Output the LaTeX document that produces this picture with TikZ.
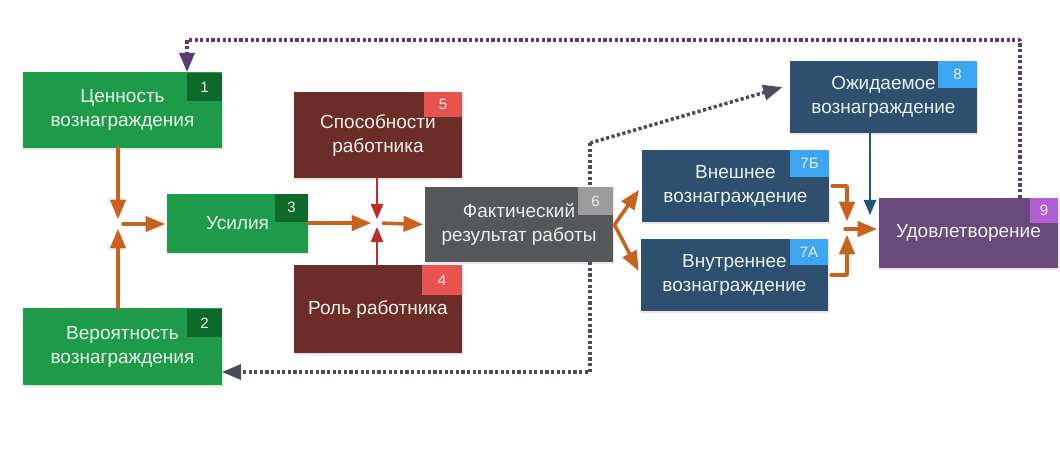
\documentclass[tikz,border=0pt]{standalone}
\usepackage{fontspec}
\setmainfont{Liberation Sans}
\usepackage{tikz}
\usetikzlibrary{arrows,shadows}

\definecolor{boxtext}{HTML}{E8F0E8}
\definecolor{greenbox}{HTML}{1E9A4B}
\definecolor{greentag}{HTML}{0E6A2B}
\definecolor{brownbox}{HTML}{6C2D29}
\definecolor{browntag}{HTML}{E8524F}
\definecolor{greybox}{HTML}{55575B}
\definecolor{greytag}{HTML}{9C9C9C}
\definecolor{bluebox}{HTML}{2F4F6F}
\definecolor{bluetag}{HTML}{3DA6F3}
\definecolor{purplebox}{HTML}{6A4A7C}
\definecolor{purpletag}{HTML}{B45ED6}
\definecolor{flowor}{HTML}{C8621F}
\definecolor{flowred}{HTML}{BE2E28}
\definecolor{flowteal}{HTML}{1C5A78}
\definecolor{dotpurple}{HTML}{5C3A78}
\definecolor{dotgrey}{HTML}{4A4D57}

\begin{document}
\begin{tikzpicture}[line cap=round,line join=round,>=triangle 45,x=1pt,y=-1pt,
  box/.style={rectangle,inner sep=0pt,align=center,text=boxtext,
    font=\fontsize{19}{24}\selectfont,
    drop shadow={opacity=0.2,shadow xshift=1pt,shadow yshift=-1.5pt}},
  tag/.style={rectangle,anchor=north east,inner sep=0pt,minimum width=35pt,
    minimum height=28pt,text=boxtext,font=\fontsize{15}{15}\selectfont},
  flow/.style={->,color=flowor,line width=3.6pt},
  inflow/.style={->,color=flowred,line width=2.6pt},
  dotline/.style={line cap=butt,line width=3.5pt,dash pattern=on 3.2pt off 2.4pt}]
\useasboundingbox (0,0) rectangle (1060,475);

% boxes
\node[box,fill=greenbox,minimum width=199pt,minimum height=76pt] (val) at (122.5,110) {Ценность\\вознаграждения};
\node[tag,fill=greentag] (val-n) at ([yshift=-1pt]val.north east) {1};
\node[box,fill=greenbox,minimum width=199pt,minimum height=77pt] (prob) at (122.5,346.5) {Вероятность\\вознаграждения};
\node[tag,fill=greentag] (prob-n) at ([yshift=-1pt]prob.north east) {2};
\node[box,fill=greenbox,minimum width=141pt,minimum height=59pt] (eff) at (237.5,223) {Усилия};
\node[tag,fill=greentag,minimum width=33pt] (eff-n) at (eff.north east) {3};
\node[box,fill=brownbox,minimum width=168pt,minimum height=86pt] (abil) at (378,135) {Способности\\работника};
\node[tag,fill=browntag,minimum width=38pt,minimum height=25pt] (abil-n) at (abil.north east) {5};
\node[box,fill=brownbox,minimum width=168pt,minimum height=88pt] (role) at (378,309) {Роль работника};
\node[tag,fill=browntag,minimum width=40pt,minimum height=30pt] (role-n) at (role.north east) {4};
\node[box,fill=greybox,minimum width=188pt,minimum height=75pt] (fact) at (519,224.5) {Фактический\\результат работы};
\node[tag,fill=greytag,minimum width=35pt] (fact-n) at (fact.north east) {6};
\node[box,fill=bluebox,minimum width=187pt,minimum height=72pt] (ext) at (735.5,186) {Внешнее\\вознаграждение};
\node[tag,fill=bluetag,minimum width=39pt,minimum height=27pt] (ext-n) at (ext.north east) {7Б};
\node[box,fill=bluebox,minimum width=187pt,minimum height=72pt] (int) at (734.5,275) {Внутреннее\\вознаграждение};
\node[tag,fill=bluetag,minimum width=38pt,minimum height=26pt] (int-n) at (int.north east) {7А};
\node[box,fill=bluebox,minimum width=187pt,minimum height=72pt] (exp) at (883.5,97) {Ожидаемое\\вознаграждение};
\node[tag,fill=bluetag,minimum width=39pt,minimum height=27pt] (exp-n) at (exp.north east) {8};
\node[box,fill=purplebox,minimum width=179pt,minimum height=70pt] (sat) at (968.5,233) {Удовлетворение};
\node[tag,fill=purpletag,minimum width=28pt,minimum height=25pt] (sat-n) at (sat.north east) {9};

% junctions
\coordinate (j1) at (118,224);
\coordinate (j2) at (377,223);
\coordinate (j3) at (847,229);
\coordinate (t8) at (870,215);

\draw[flow,shorten >=5pt] (val.south -| j1) -- (j1);
\draw[flow,shorten >=5pt] (prob.north -| j1) -- (j1);
\draw[flow,shorten <=5pt,shorten >=2pt] (j1) -- (j1 -| eff.west);
\draw[flow,shorten >=6pt] (eff.east) -- (j2);
\draw[flow,shorten <=6pt,shorten >=2pt] (j2) -- (fact.west);
\draw[inflow,shorten >=4pt] (abil.south -| j2) -- (j2);
\draw[inflow,shorten >=4pt] (role.north -| j2) -- (j2);
\draw[flow,shorten <=3pt,shorten >=5pt] ([yshift=-2pt]fact.east) -- (ext.west);
\draw[flow,shorten <=3pt,shorten >=5pt] ([yshift=2pt]fact.east) -- (int.west);
\draw[flow,shorten <=3pt,shorten >=8pt] (ext.east) -- (ext.east -| j3) -- (j3);
\draw[flow,shorten <=3pt,shorten >=6pt] (int.east) -- (int.east -| j3) -- (j3);
\draw[flow,shorten <=-2pt,shorten >=2pt] (j3) -- (j3 -| sat.west);
\draw[->,color=flowteal,line width=2.6pt] (exp.south -| t8) -- (t8);

% dotted feedback
\coordinate (ptop) at (1020,40);
\coordinate (pleft) at (187,40);
\draw[dotline,->,color=dotpurple] (sat.north -| ptop) -- (ptop) -- (pleft) -- (pleft |- val.north);
\coordinate (gtop) at (590,143);
\coordinate (gbot) at (590,372);
\draw[dotline,color=dotgrey] (gtop) -- (fact.north -| gtop);
\draw[dotline,->,color=dotgrey] (fact.south -| gbot) -- (gbot) -- (gbot -| prob.east);
\draw[dotline,->,color=dotgrey,shorten >=8pt] (gtop) -- ([yshift=12pt]exp.west);
\end{tikzpicture}
\end{document}
